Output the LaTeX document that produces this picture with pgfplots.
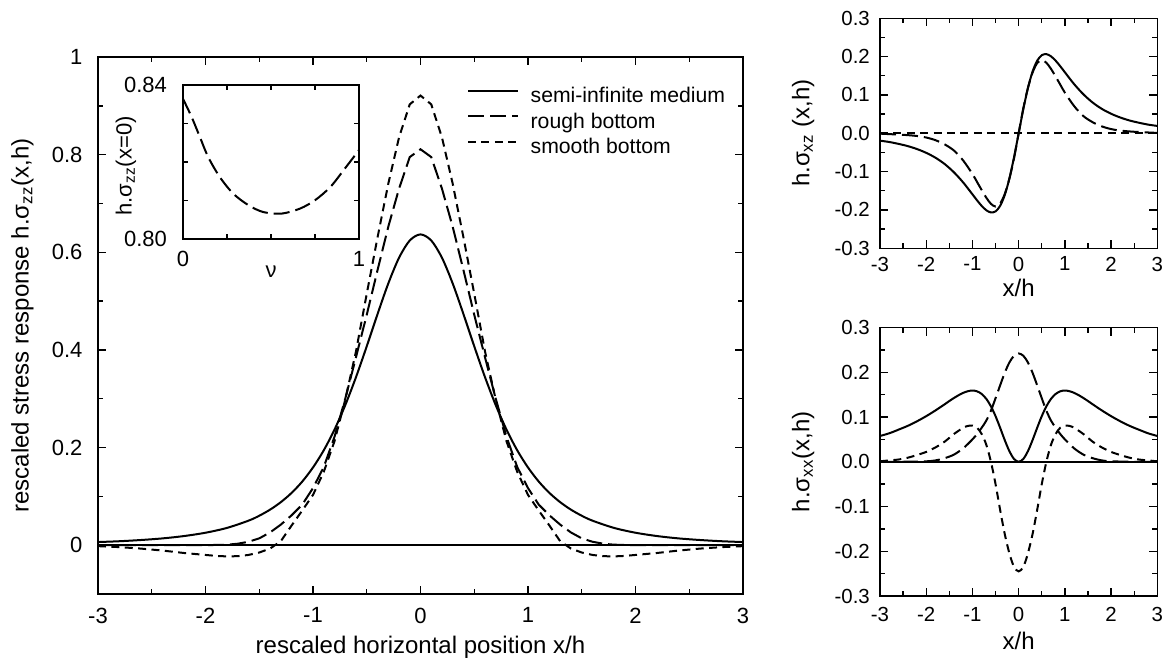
\documentclass[border=0pt]{standalone}
\usepackage{fontspec}
\setmainfont{Liberation Sans}
\usepackage{pgfplots}
\pgfplotsset{compat=1.18}
\begin{document}
\begin{tikzpicture}
\pgfplotsset{
  every axis/.append style={
    scale only axis, axis line style={line width=0.7bp},
    tick align=inside, major tick length=4bp, minor tick length=2.5bp,
    every tick/.style={black, line width=0.7bp},
    /pgf/number format/assume math mode=true,
  },
  semi/.style={black, line width=1bp},
  rough/.style={black, line width=1bp, dash pattern=on 8bp off 3bp},
  smoothb/.style={black, line width=1bp, dash pattern=on 4bp off 2.7bp},
}
\path[use as bounding box] (0,0) rectangle (585.5bp,330bp);
% ---------------- main axis ----------------
\begin{axis}[at={(49bp,33bp)}, anchor=south west, width=322.5bp, height=268.5bp,
  xmin=-3, xmax=3, ymin=-0.1, ymax=1,
  xtick={-3,-2,-1,0,1,2,3}, minor x tick num=1,
  ytick={0,0.2,0.4,0.6,0.8,1}, minor y tick num=1,
  tick label style={font=\fontsize{11bp}{13bp}\selectfont},
  xticklabel style={yshift=-3.3bp},
  yticklabel style={xshift=-4.3bp},
  xlabel={rescaled horizontal position x/h},
  ylabel={rescaled stress response h.σ\textsubscript{zz}(x,h)},
  label style={font=\fontsize{12bp}{14bp}\selectfont},
  xlabel style={at={(axis description cs:0.5,-0.110)}, anchor=base},
  ylabel style={at={(axis description cs:-0.117,0.5)}, anchor=center},
  legend style={draw=none, fill=none, at={(0.5716,0.9462)}, anchor=north west,
    inner sep=0pt, font=\fontsize{10.6bp}{12.75bp}\selectfont, row sep=1.85bp,
    nodes={text height=7.7bp, text depth=2.2bp, inner sep=0.5bp}},
  legend cell align=left,
  legend image code/.code={\draw[#1] (0bp,3.3bp) -- (25bp,3.3bp); \path (30.3bp,3.3bp);},
]
\addplot[semi, smooth] table {
-3.0 0.0064
-2.8 0.0081
-2.6 0.0106
-2.4 0.0139
-2.2 0.0187
-2.0 0.0255
-1.8 0.0354
-1.6 0.0502
-1.5 0.0603
-1.4 0.0727
-1.3 0.0880
-1.2 0.1069
-1.1 0.1303
-1.0 0.1592
-0.9 0.1943
-0.8 0.2367
-0.7 0.2868
-0.6 0.3442
-0.5 0.4074
-0.4 0.4731
-0.3 0.5358
-0.2 0.5886
-0.1 0.6241
0.0 0.6366
0.1 0.6241
0.2 0.5886
0.3 0.5358
0.4 0.4731
0.5 0.4074
0.6 0.3442
0.7 0.2868
0.8 0.2367
0.9 0.1943
1.0 0.1592
1.1 0.1303
1.2 0.1069
1.3 0.0880
1.4 0.0727
1.5 0.0603
1.6 0.0502
1.8 0.0354
2.0 0.0255
2.2 0.0187
2.4 0.0139
2.6 0.0106
2.8 0.0081
3.0 0.0064
};
\addlegendentry{semi-infinite medium}
\addplot[rough] table {
-3.0 0.000
-2.5 0.000
-2.0 0.000
-1.8 0.001
-1.7 0.003
-1.6 0.007
-1.5 0.014
-1.4 0.026
-1.3 0.042
-1.2 0.061
-1.1 0.083
-1.0 0.117
-0.9 0.160
-0.8 0.222
-0.7 0.300
-0.6 0.385
-0.5 0.472
-0.4 0.563
-0.3 0.652
-0.2 0.730
-0.1 0.795
0.0 0.811
0.1 0.795
0.2 0.730
0.3 0.652
0.4 0.563
0.5 0.472
0.6 0.385
0.7 0.300
0.8 0.222
0.9 0.160
1.0 0.117
1.1 0.083
1.2 0.061
1.3 0.042
1.4 0.026
1.5 0.014
1.6 0.007
1.7 0.003
1.8 0.001
2.0 0.000
2.5 0.000
3.0 0.000
};
\addlegendentry{rough bottom}
\addplot[smoothb] table {
-3.0 -0.002
-2.8 -0.004
-2.6 -0.007
-2.4 -0.011
-2.2 -0.016
-2.0 -0.020
-1.9 -0.022
-1.8 -0.023
-1.7 -0.0225
-1.6 -0.020
-1.5 -0.015
-1.4 -0.007
-1.3 0.008
-1.2 0.040
-1.1 0.071
-1.0 0.103
-0.9 0.150
-0.8 0.213
-0.7 0.298
-0.6 0.397
-0.5 0.515
-0.4 0.630
-0.3 0.740
-0.2 0.835
-0.1 0.903
0.0 0.921
0.1 0.903
0.2 0.835
0.3 0.740
0.4 0.630
0.5 0.515
0.6 0.397
0.7 0.298
0.8 0.213
0.9 0.150
1.0 0.103
1.1 0.071
1.2 0.040
1.3 0.008
1.4 -0.007
1.5 -0.015
1.6 -0.020
1.7 -0.0225
1.8 -0.023
1.9 -0.022
2.0 -0.020
2.2 -0.016
2.4 -0.011
2.6 -0.007
2.8 -0.004
3.0 -0.002
};
\addlegendentry{smooth bottom}
\addplot[semi, forget plot] coordinates {(-3,0) (3,0)};
\end{axis}
% ---------------- inset ----------------
\begin{axis}[at={(91.5bp,210.5bp)}, anchor=south west, width=88bp, height=77bp,
  xmin=0, xmax=1, ymin=0.80, ymax=0.84,
  xtick={0,1}, minor xtick={0.25,0.5,0.75},
  ytick={0.80,0.84}, yticklabels={0.80,0.84}, minor ytick={0.81,0.82,0.83},
  tick label style={font=\fontsize{11bp}{13bp}\selectfont},
  xticklabel style={yshift=-2.8bp},
  yticklabel style={xshift=-4.5bp},
  xlabel={ν}, ylabel={h.σ\textsubscript{zz}(x=0)},
  label style={font=\fontsize{11bp}{13bp}\selectfont},
  xlabel style={at={(axis description cs:0.5,-0.253)}, anchor=base},
  ylabel style={at={(axis description cs:-0.324,0.475)}, anchor=center},
]
\addplot[rough, smooth] table {
0.000 0.8364
0.048 0.8318
0.095 0.8266
0.143 0.8213
0.209 0.8161
0.285 0.8118
0.371 0.8088
0.456 0.8070
0.561 0.8066
0.665 0.8079
0.751 0.8101
0.837 0.8135
0.913 0.8179
1.000 0.8231
};
\end{axis}
% ---------------- top right ----------------
\begin{axis}[at={(440bp,205.85bp)}, anchor=south west, width=138.65bp, height=115bp,
  xmin=-3, xmax=3, ymin=-0.3, ymax=0.3,
  xtick={-3,-2,-1,0,1,2,3}, minor x tick num=1,
  ytick={-0.3,-0.2,-0.1,0,0.1,0.2,0.3}, minor y tick num=1,
  yticklabel style={/pgf/number format/fixed, /pgf/number format/fixed zerofill,
    /pgf/number format/precision=1, xshift=-1.6bp},
  tick label style={font=\fontsize{10.2bp}{12bp}\selectfont},
  xticklabel style={yshift=-0.8bp},
  xlabel={x/h}, ylabel={h.σ\textsubscript{xz} (x,h)},
  label style={font=\fontsize{12bp}{14bp}\selectfont},
  xlabel style={at={(axis description cs:0.5,-0.210)}, anchor=base},
  ylabel style={at={(axis description cs:-0.277,0.5)}, anchor=center},
]
\addplot[semi, smooth] table {
-3.0 -0.0192
-2.8 -0.0227
-2.6 -0.0276
-2.4 -0.0334
-2.2 -0.0411
-2.0 -0.0510
-1.8 -0.0637
-1.6 -0.0803
-1.4 -0.1018
-1.2 -0.1283
-1.0 -0.1592
-0.9 -0.1749
-0.8 -0.1894
-0.7 -0.2008
-0.6 -0.2065
-0.5 -0.2037
-0.4 -0.1892
-0.3 -0.1607
-0.2 -0.1177
-0.1 -0.0624
0.0 0.0
0.1 0.0624
0.2 0.1177
0.3 0.1607
0.4 0.1892
0.5 0.2037
0.6 0.2065
0.7 0.2008
0.8 0.1894
0.9 0.1749
1.0 0.1592
1.2 0.1283
1.4 0.1018
1.6 0.0803
1.8 0.0637
2.0 0.0510
2.2 0.0411
2.4 0.0334
2.6 0.0276
2.8 0.0227
3.0 0.0192
};
\addplot[rough, smooth] table {
-3.0 -0.001
-2.5 -0.004
-2.2 -0.007
-2.0 -0.011
-1.8 -0.018
-1.6 -0.029
-1.4 -0.045
-1.2 -0.071
-1.0 -0.106
-0.9 -0.127
-0.8 -0.148
-0.7 -0.168
-0.6 -0.184
-0.5 -0.191
-0.4 -0.183
-0.3 -0.158
-0.2 -0.118
-0.1 -0.065
0.0 0.0
0.1 0.065
0.2 0.118
0.3 0.158
0.4 0.183
0.5 0.191
0.6 0.184
0.7 0.168
0.8 0.148
0.9 0.127
1.0 0.106
1.2 0.071
1.4 0.045
1.6 0.029
1.8 0.018
2.0 0.011
2.2 0.007
2.5 0.004
3.0 0.001
};
\addplot[smoothb] coordinates {(-3,0) (3,0)};
\end{axis}
% ---------------- bottom right ----------------
\begin{axis}[at={(440bp,32bp)}, anchor=south west, width=138.65bp, height=134.25bp,
  xmin=-3, xmax=3, ymin=-0.3, ymax=0.3,
  xtick={-3,-2,-1,0,1,2,3}, minor x tick num=1,
  ytick={-0.3,-0.2,-0.1,0,0.1,0.2,0.3}, minor y tick num=1,
  yticklabel style={/pgf/number format/fixed, /pgf/number format/fixed zerofill,
    /pgf/number format/precision=1, xshift=-1.6bp},
  tick label style={font=\fontsize{10.2bp}{12bp}\selectfont},
  xticklabel style={yshift=-2bp},
  xlabel={x/h}, ylabel={h.σ\textsubscript{xx}(x,h)},
  label style={font=\fontsize{12bp}{14bp}\selectfont},
  xlabel style={at={(axis description cs:0.5,-0.201)}, anchor=base},
  ylabel style={at={(axis description cs:-0.277,0.5)}, anchor=center},
]
\addplot[semi, smooth] table {
-3.0 0.0576
-2.8 0.0636
-2.6 0.0717
-2.4 0.0802
-2.2 0.0904
-2.0 0.1019
-1.8 0.1147
-1.6 0.1285
-1.5 0.1357
-1.4 0.1425
-1.3 0.1487
-1.2 0.1540
-1.1 0.1576
-1.0 0.1592
-0.9 0.1574
-0.8 0.1515
-0.7 0.1405
-0.6 0.1239
-0.5 0.1019
-0.4 0.0757
-0.3 0.0482
-0.2 0.0235
-0.1 0.0062
0.0 0.0
0.1 0.0062
0.2 0.0235
0.3 0.0482
0.4 0.0757
0.5 0.1019
0.6 0.1239
0.7 0.1405
0.8 0.1515
0.9 0.1574
1.0 0.1592
1.1 0.1576
1.2 0.1540
1.3 0.1487
1.4 0.1425
1.5 0.1357
1.6 0.1285
1.8 0.1147
2.0 0.1019
2.2 0.0904
2.4 0.0802
2.6 0.0717
2.8 0.0636
3.0 0.0576
};
\addplot[rough, smooth] table {
-3.0 0.000
-2.5 0.000
-2.0 0.001
-1.8 0.003
-1.6 0.008
-1.4 0.016
-1.2 0.030
-1.0 0.050
-0.9 0.062
-0.8 0.076
-0.7 0.092
-0.6 0.114
-0.5 0.142
-0.4 0.171
-0.3 0.199
-0.2 0.222
-0.1 0.237
0.0 0.242
0.1 0.237
0.2 0.222
0.3 0.199
0.4 0.171
0.5 0.142
0.6 0.114
0.7 0.092
0.8 0.076
0.9 0.062
1.0 0.050
1.2 0.030
1.4 0.016
1.6 0.008
1.8 0.003
2.0 0.001
2.5 0.000
3.0 0.000
};
\addplot[smoothb, smooth] table {
-3.0 0.001
-2.8 0.003
-2.6 0.005
-2.4 0.009
-2.2 0.015
-2.0 0.022
-1.8 0.032
-1.6 0.045
-1.4 0.062
-1.2 0.076
-1.1 0.080
-1.0 0.081
-0.9 0.076
-0.8 0.062
-0.7 0.038
-0.6 0.000
-0.5 -0.050
-0.4 -0.108
-0.3 -0.162
-0.2 -0.205
-0.1 -0.235
0.0 -0.245
0.1 -0.235
0.2 -0.205
0.3 -0.162
0.4 -0.108
0.5 -0.050
0.6 0.000
0.7 0.038
0.8 0.062
0.9 0.076
1.0 0.081
1.1 0.080
1.2 0.076
1.4 0.062
1.6 0.045
1.8 0.032
2.0 0.022
2.2 0.015
2.4 0.009
2.6 0.005
2.8 0.003
3.0 0.001
};
\addplot[semi] coordinates {(-3,0) (3,0)};
\end{axis}
\end{tikzpicture}
\end{document}
